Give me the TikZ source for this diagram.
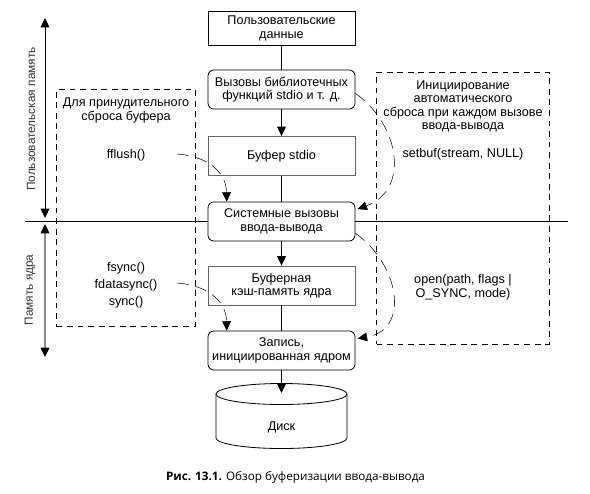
\documentclass[tikz,border=0pt]{standalone}
\usepackage{fontspec}
\setmainfont{Liberation Sans}
\newfontfamily\capfont{Open Sans}
\usetikzlibrary{arrows.meta, positioning}

\begin{document}
\begin{tikzpicture}[x=0.03cm, y=-0.03cm,
        >={Triangle[length=8pt, width=7.5pt]},
        every node/.style={font=\fontsize{10.8}{11.5}\selectfont, align=center},
        box/.style={draw, fill=white, line width=0.7pt, minimum width=4.41cm, minimum height=1.17cm, inner sep=1pt},
        grbox/.style={box, draw=black!60, line width=0.8pt},
        rbox/.style={box, rounded corners=5pt},
        line/.style={line width=0.7pt},
        arr/.style={->, line width=0.7pt},
        dashbox/.style={draw, line width=0.7pt, dash pattern=on 5pt off 4pt},
        darr/.style={->, line width=0.45pt, dash pattern=on 10pt off 6pt},
        sidetext/.style={rotate=90, text=black!80, font=\fontsize{10.1}{11.5}\selectfont},
        diskrim/.style={x radius=1.965cm, y radius=0.315cm},
    ]
    \useasboundingbox (0,0) rectangle (590,493);
    % Memory border
    \coordinate (borderl) at (25, 221);
    \coordinate (borderr) at (568, 221);
    \draw[line] (borderl) -- (borderr);
    % Memory arrows
    \coordinate (usertop) at (45, 18);
    \coordinate (userbot) at (45, 218);
    \coordinate (kerntop) at (45, 224);
    \coordinate (kernbot) at (45, 357);
    \draw[<->, line width=0.7pt] (usertop) -- (userbot);
    \draw[line width=0.9pt, draw=black!45, {Triangle[length=8pt, width=7.5pt, black]}-{Triangle[length=8pt, width=7.5pt, black]}] (kerntop) -- (kernbot);
    \node[sidetext] (usermem) at (31, 119) {Пользовательская память};
    \node[sidetext] (kernmem) at (30, 290) {Память ядра};
    % Groups
    \node[dashbox, minimum width=4.17cm, minimum height=7.095cm] (leftgroup) at (126, 207.75) {};
    \node[dashbox, minimum width=5.175cm, minimum height=8.16cm] (rightgroup) at (462.75, 208) {};
    % Main column
    \node[box, minimum height=1cm] (user) at (281.5, 28.5) {Пользовательские\\данные};
    \node[rbox] (lib) at (281.5, 89.5) {Вызовы библиотечных\\функций stdio и т. д.};
    \node[grbox] (stdio) at (281.5, 156) {Буфер stdio};
    \node[rbox] (sys) at (281.5, 221.5) {Системные вызовы\\ввода-вывода};
    \node[grbox] (kcache) at (281.5, 285.5) {Буферная\\кэш-память ядра};
    \node[rbox] (kwrite) at (281.5, 350.5) {Запись,\\инициированная ядром};
    % Disk
    \draw[line, fill=white] (216, 394) -- (216, 438) arc[start angle=180, end angle=360, diskrim] -- (347, 394) arc[start angle=0, end angle=180, diskrim];
    \draw[line] (216, 394) arc[start angle=180, end angle=360, diskrim];
    \node (disktext) at (281.5, 427) {Диск};
    \coordinate (disktip) at (281.5, 393);
    \draw[line] (user) -- (lib);
    \draw[arr] (lib) -- (stdio);
    \draw[line] (stdio) -- (sys);
    \draw[arr] (sys) -- (kcache);
    \draw[line] (kcache) -- (kwrite);
    \draw[arr] (kwrite) -- (disktip);
    % Left texts
    \node (flushhead) at (126, 110.5) {Для принудительного\\сброса буфера};
    \node (fflush) at (126, 155) {fflush()};
    \node[font=\fontsize{10.8}{14.5}\selectfont] (syncs) at (126, 285) {fsync()\\fdatasync()\\sync()};
    \coordinate (fflushout) at (177, 154);
    \coordinate (syncout) at (177, 283);
    \draw[darr] (fflushout) .. controls (205, 156) and (226, 170) .. (sys.160);
    \draw[darr] (syncout) .. controls (205, 285) and (226, 299) .. (kwrite.160);
    % Right texts
    \node (autohead) at (463, 106.5) {Инициирование\\автоматического\\сброса при каждом вызове\\ввода-вывода};
    \node (setbuf) at (463, 154) {setbuf(stream, NULL)};
    \node (opencall) at (463, 287) {open(path, flags |\\O\_SYNC, mode)};
    \draw[darr, shorten >=2pt] (lib.-3) .. controls (400, 125) and (410, 190) .. (sys.9);
    \draw[darr, shorten >=2pt] (sys.-9) .. controls (400, 265) and (410, 330) .. (kwrite.9);
    % Caption
    \node[font=\capfont\fontsize{10}{10}\selectfont] (caption) at (295.5, 477) {\textbf{Рис. 13.1.} Обзор буферизации ввода-вывода};
\end{tikzpicture}
\end{document}
